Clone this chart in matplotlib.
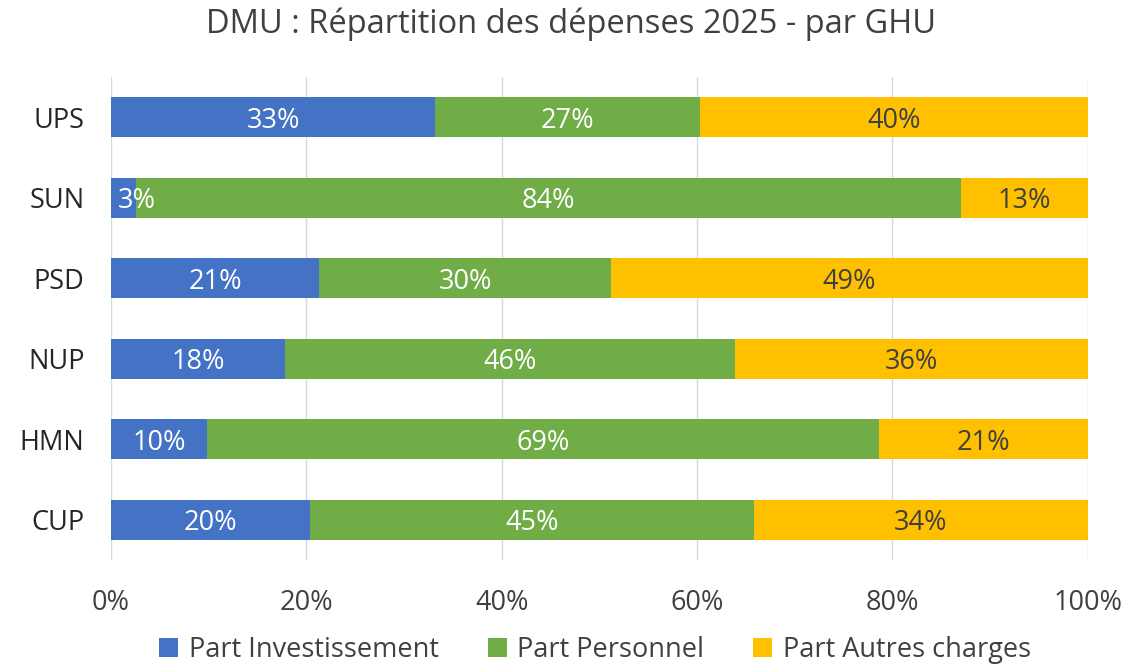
import matplotlib.pyplot as plt
import numpy as np

plt.rcParams['font.family'] = ['Open Sans', 'DejaVu Sans']

ghu = ['CUP', 'HMN', 'NUP', 'PSD', 'SUN', 'UPS']
invest = [20.4, 9.8, 17.8, 21.3, 2.6, 33.2]
personnel = [45.4, 68.8, 46.1, 29.9, 84.4, 27.1]
autres = [34.2, 21.4, 36.1, 48.8, 13.0, 39.7]

series = [
    ('Part Investissement', invest, '#4472C4', 'white'),
    ('Part Personnel', personnel, '#70AD47', 'white'),
    ('Part Autres charges', autres, '#FFC000', '#404040'),
]

fig = plt.figure(figsize=(11.28, 6.65), dpi=100)
ax = fig.add_axes([0.0984, 0.158, 0.866, 0.726])

y = np.arange(len(ghu))
left = np.zeros(len(ghu))
for name, vals, color, tcol in series:
    vals = np.array(vals)
    ax.barh(y, vals, left=left, height=0.5, color=color, label=name, zorder=2)
    for yi, l, v in zip(y, left, vals):
        # small segments: label starts inside the bar instead of centred
        if v < 5:
            ax.text(l + 0.7, yi, '%.0f%%' % v, ha='left', va='center_baseline',
                    color=tcol, fontsize=19.5, zorder=3)
        else:
            ax.text(l + v / 2, yi, '%.0f%%' % v, ha='center', va='center_baseline',
                    color=tcol, fontsize=19.5, zorder=3)
    left += vals

ax.set_xlim(0, 100)
ax.set_ylim(-0.5, len(ghu) - 0.5)
ax.set_xticks(np.arange(0, 101, 20))
ax.set_xticklabels(['%d%%' % t for t in range(0, 101, 20)])
ax.set_yticks(y)
ax.set_yticklabels(ghu)
ax.tick_params(axis='both', length=0, labelsize=19.5, colors='#262626')
ax.tick_params(axis='x', pad=21, labelcolor='#404040')
ax.tick_params(axis='y', pad=19)
ax.grid(axis='x', color='#D9D9D9', linewidth=1, zorder=0)
for s in ax.spines.values():
    s.set_visible(False)

fig.text(571 / 1128, 1 - 24 / 665, 'DMU : Répartition des dépenses 2025 - par GHU',
         fontsize=23.5, color='#404040', ha='center', va='center')
fig.legend(loc='center', bbox_to_anchor=(595 / 1128, 0.022), ncol=3, frameon=False,
           fontsize=19.5, handlelength=0.7, handleheight=0.7, columnspacing=1.8,
           handletextpad=0.4, labelcolor='#404040', borderpad=0)

fig.savefig('out.png')
